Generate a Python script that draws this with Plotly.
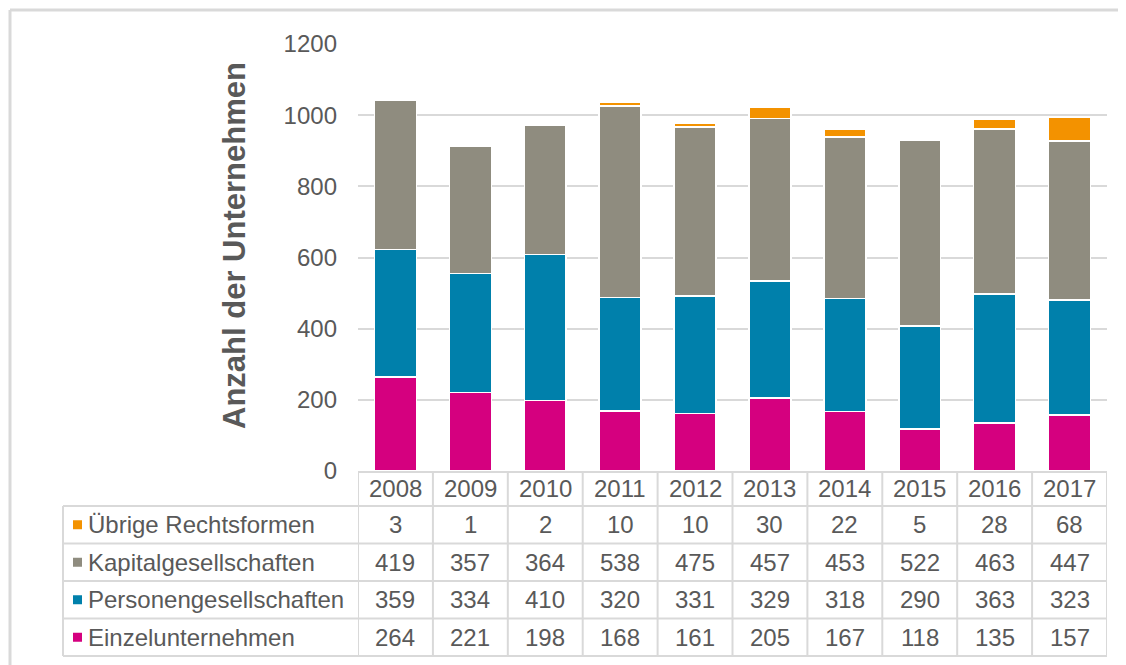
import plotly.graph_objects as go

years = ["2008", "2009", "2010", "2011", "2012", "2013", "2014", "2015", "2016", "2017"]
einzel = [264, 221, 198, 168, 161, 205, 167, 118, 135, 157]
personen = [359, 334, 410, 320, 331, 329, 318, 290, 363, 323]
kapital = [419, 357, 364, 538, 475, 457, 453, 522, 463, 447]
uebrige = [3, 1, 2, 10, 10, 30, 22, 5, 28, 68]

series_names = ["Einzelunternehmen", "Personengesellschaften", "Kapitalgesellschaften", "Übrige Rechtsformen"]
series_values = [einzel, personen, kapital, uebrige]
series_colors = ["#d5007f", "#0080ab", "#8f8c7f", "#f39200"]
y_ticks = [0, 200, 400, 600, 800, 1000, 1200]

W, H = 1126, 665
OFF = 8  # page body margin
FONT = "Liberation Sans, Arial, sans-serif"
TXT = "#595959"
LINE = "#d9d9d9"
FS = 24


def px(x):
    return (x - OFF) / W


def py(y):
    return 1 - (y - OFF) / H


fig = go.Figure()
for name, vals, col in zip(series_names, series_values, series_colors):
    fig.add_trace(go.Bar(x=list(range(len(years))), y=vals, name=name,
                         marker=dict(color=col, line=dict(color="white", width=1.5)), showlegend=False))

shapes = []
annotations = []

# outer frame
shapes.append(dict(type="line", xref="paper", yref="paper", x0=px(10), x1=px(1140), y0=py(10), y1=py(10),
                   line=dict(color=LINE, width=3)))
shapes.append(dict(type="line", xref="paper", yref="paper", x0=px(10), x1=px(10), y0=py(10), y1=py(680),
                   line=dict(color=LINE, width=3)))

# table geometry
header_top, header_bot = 472, 506
row_edges = [506, 543.5, 581, 618.5, 656]
left_x, axis_left, axis_right = 63, 358, 1107

shapes.append(dict(type="line", xref="paper", yref="paper", x0=px(axis_left), x1=px(axis_right),
                   y0=py(header_top), y1=py(header_top), line=dict(color=LINE, width=2)))
for ye in row_edges:
    shapes.append(dict(type="line", xref="paper", yref="paper", x0=px(left_x), x1=px(axis_right),
                       y0=py(ye), y1=py(ye), line=dict(color=LINE, width=2)))
for i in range(len(years) + 1):
    shapes.append(dict(type="line", xref="x", yref="paper", x0=i - 0.5, x1=i - 0.5,
                       y0=py(header_top), y1=py(row_edges[-1]), line=dict(color=LINE, width=2)))
shapes.append(dict(type="line", xref="paper", yref="paper", x0=px(left_x), x1=px(left_x),
                   y0=py(row_edges[0]), y1=py(row_edges[-1]), line=dict(color=LINE, width=2)))

# year header
for i, yr in enumerate(years):
    annotations.append(dict(x=i, xref="x", y=py((header_top + header_bot) / 2), yref="paper", text=yr,
                            xanchor="center", yanchor="middle", showarrow=False,
                            font=dict(size=FS, color=TXT, family=FONT)))

# table rows (top: Übrige ... bottom: Einzel)
order = [3, 2, 1, 0]
for r, si in enumerate(order):
    yc = (row_edges[r] + row_edges[r + 1]) / 2
    shapes.append(dict(type="rect", xref="paper", yref="paper", x0=px(73), x1=px(82), y0=py(yc - 4.5),
                       y1=py(yc + 4.5), fillcolor=series_colors[si], line=dict(width=0)))
    annotations.append(dict(x=px(86), xref="paper", y=py(yc), yref="paper", text=series_names[si],
                            xanchor="left", yanchor="middle", showarrow=False,
                            font=dict(size=FS, color=TXT, family=FONT)))
    for i, v in enumerate(series_values[si]):
        annotations.append(dict(x=i, xref="x", y=py(yc), yref="paper", text=str(v), showarrow=False,
                                xanchor="center", yanchor="middle",
                                font=dict(size=FS, color=TXT, family=FONT)))

# y axis title
annotations.append(dict(x=px(234), xref="paper", y=py(246), yref="paper", text="<b>Anzahl der Unternehmen</b>",
                        textangle=-90, xanchor="center", yanchor="middle", showarrow=False,
                        font=dict(size=31, color=TXT, family=FONT)))

fig.update_layout(
    width=W, height=H, autosize=False,
    barmode="stack", bargap=0.44,
    margin=dict(l=0, r=0, t=0, b=0, pad=0, autoexpand=False),
    paper_bgcolor="white", plot_bgcolor="white",
    font=dict(family=FONT, color=TXT, size=FS),
    xaxis=dict(domain=[px(axis_left), px(axis_right)], range=[-0.5, 9.5], showticklabels=False,
               showgrid=False, zeroline=False, showline=False, automargin=False),
    yaxis=dict(domain=[py(471), py(44)], range=[0, 1200], tickvals=y_ticks, showgrid=True, gridcolor=LINE,
               gridwidth=2, zeroline=False, showline=False, ticklabelstandoff=20, automargin=False,
               tickfont=dict(size=FS, color=TXT, family=FONT)),
    shapes=shapes, annotations=annotations,
)

fig.write_html("out.html")
